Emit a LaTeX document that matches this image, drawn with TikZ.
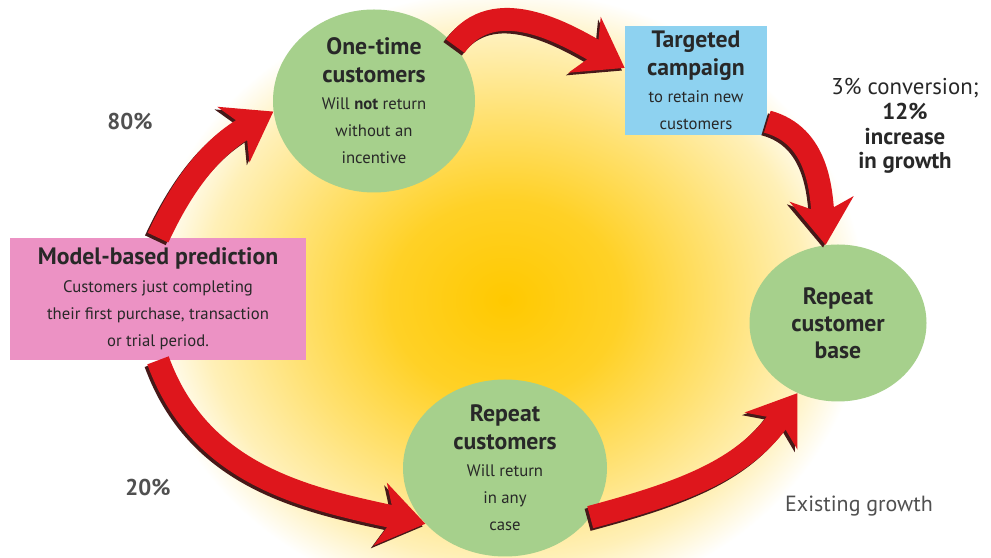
\documentclass[tikz,border=0pt]{standalone}
\usepackage{fontspec}
\setmainfont{PT Sans}
\usetikzlibrary{arrows.meta, shapes.geometric}

\definecolor{leaf}{RGB}{166,208,140}
\definecolor{sky}{RGB}{142,210,240}
\definecolor{blush}{RGB}{236,146,196}
\definecolor{flame}{RGB}{222,22,28}
\definecolor{ember}{RGB}{70,25,25}
\definecolor{ink}{RGB}{40,40,40}
\definecolor{smoke}{RGB}{80,80,80}
\definecolor{sunc}{RGB}{255,201,0}

\pgfdeclareradialshading{glow}{\pgfpoint{0bp}{0bp}}{color(0bp)=(sunc); color(8bp)=(sunc!85!white); color(15bp)=(sunc!55!white); color(21bp)=(sunc!28!white); color(25bp)=(white); color(50bp)=(white)}

\newcommand\headfont{\fontsize{13.5}{15}\selectfont\bfseries}
\newcommand\bodyfont{\fontsize{9.5}{15.5}\selectfont}

\begin{document}
\begin{tikzpicture}[x=0.2mm,y=0.2mm,
  bubble/.style={ellipse,fill=leaf,align=center,inner sep=-2mm,text=ink,font=\bodyfont},
  card/.style={rectangle,align=center,inner sep=0pt,text=ink,font=\bodyfont},
  swoosh/.style={flame,line width=13pt,-{Stealth[length=26pt,width=36pt,inset=8pt]}},
  swooshshade/.style={ember,line width=13pt,-{Stealth[length=26pt,width=36pt,inset=8pt]},transform canvas={shift={(-1.5pt,-1.5pt)}}}]

\useasboundingbox (0,0) rectangle (991,558);
\clip (0,0) rectangle (991,558);
\fill[white] (0,0) rectangle (991,558);
\shade[shading=glow] (505,258) ellipse [x radius=360, y radius=310];

% The stages of the cycle
\node[bubble,minimum width=40.4mm,minimum height=36.6mm] (onetime) at (374,457) {{\headfont One-time}\\{\headfont customers}\\Will \textbf{not} return\\without an\\incentive};
\node[card,fill=sky,minimum width=28.4mm,minimum height=21.8mm] (target) at (696,477.5) {{\headfont Targeted}\\{\headfont campaign}\\to retain new\\customers};
\node[bubble,minimum width=35.4mm,minimum height=31.4mm] (base) at (838,235) {{\headfont Repeat}\\{\headfont customer}\\{\headfont base}};
\node[card,fill=blush,minimum width=59.2mm,minimum height=24.4mm] (pred) at (158,259) {{\headfont Model-based prediction}\\Customers just completing\\their first purchase, transaction\\or trial period.};
\node[bubble,minimum width=40.8mm,minimum height=35.4mm] (again) at (505,90) {{\headfont Repeat}\\{\headfont customers}\\Will return\\in any\\case};

% Side labels
\node[align=center,text=ink,font=\fontsize{13}{14}\selectfont] (conv) at (905,432) {3\% conversion;\\\textbf{12\%}\\\textbf{increase}\\\textbf{in growth}};
\node[text=smoke,font=\fontsize{13}{14}\selectfont\bfseries] (pct80) at (130,436) {80\%};
\node[text=smoke,font=\fontsize{13}{14}\selectfont\bfseries] (pct20) at (148,70) {20\%};
\node[text=smoke,font=\fontsize{12.5}{14}\selectfont] (growth) at (859,52) {Existing growth};

% Red arrows between the stages
\foreach \from/\to/\o/\i in {pred.north/onetime.186/65/210, onetime.34/target.170/55/150, target.-30/base.99/-15/95, pred.south/again.215/-70/168, again.-30/base.240/15/235}
{
  \draw[swooshshade] (\from) to[out=\o,in=\i] (\to);
  \draw[swoosh] (\from) to[out=\o,in=\i] (\to);
}

\end{tikzpicture}
\end{document}
